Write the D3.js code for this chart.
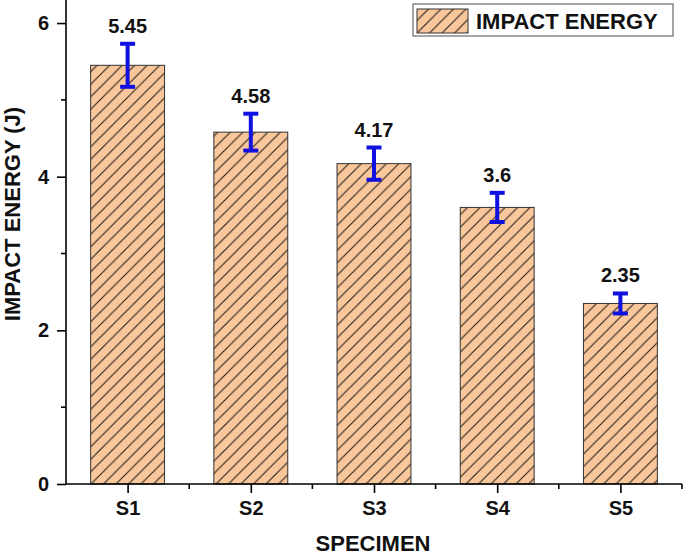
<!DOCTYPE html>
<html><head><meta charset="utf-8">
<script src="https://cdn.jsdelivr.net/npm/d3@7"></script>
<style>body{margin:0;background:#fff}svg{display:block}text{font-family:"Liberation Sans",Arial,sans-serif;font-weight:bold}</style>
</head><body><svg id="c" width="685" height="557"></svg>
<script>
const categories = ["S1","S2","S3","S4","S5"];
const values = [5.45, 4.58, 4.17, 3.6, 2.35];
const errors = [0.28, 0.24, 0.21, 0.19, 0.13];
const yTicks = [0, 2, 4, 6];
const yMinorTicks = [1, 3, 5];
const legendLabel = "IMPACT ENERGY";

const svg = d3.select("#c");
const x = d3.scaleLinear().domain([0.5, 5.5]).range([66, 682]);
const y = d3.scaleLinear().domain([0, 6.3]).range([484, 0]);
const barW = (x(1.6) - x(1));

const defs = svg.append("defs");
const pat = defs.append("pattern").attr("id","hatch").attr("patternUnits","userSpaceOnUse")
  .attr("width",12.5).attr("height",12.5);
pat.append("rect").attr("width",12.5).attr("height",12.5).attr("fill","#f8c79b");
pat.append("path").attr("d","M-1,13.5 L13.5,-1 M-4,4 L4,-4 M8.5,16.5 L16.5,8.5")
  .attr("stroke","#2a1f18").attr("stroke-width",1.1);

// bars
svg.selectAll("rect.bar").data(values).enter().append("rect").attr("class","bar")
  .attr("x",(d,i)=>x(i+1)-barW/2).attr("width",barW)
  .attr("y",d=>y(d)).attr("height",d=>y(0)-y(d))
  .attr("fill","url(#hatch)").attr("stroke","#333").attr("stroke-width",1);

// error bars
const eb = svg.selectAll("g.err").data(values).enter().append("g").attr("class","err");
eb.append("line").attr("x1",(d,i)=>x(i+1)).attr("x2",(d,i)=>x(i+1))
  .attr("y1",(d,i)=>y(d+errors[i])).attr("y2",(d,i)=>y(d-errors[i]))
  .attr("stroke","#1010e0").attr("stroke-width",4);
[1,-1].forEach(s=>{
  eb.append("line").attr("x1",(d,i)=>x(i+1)-7.5).attr("x2",(d,i)=>x(i+1)+7.5)
    .attr("y1",(d,i)=>y(d+s*errors[i])).attr("y2",(d,i)=>y(d+s*errors[i]))
    .attr("stroke","#1010e0").attr("stroke-width",4);
});
// value labels
svg.selectAll("text.val").data(values).enter().append("text").attr("class","val")
  .attr("x",(d,i)=>x(i+1)).attr("y",(d,i)=>y(d+errors[i])-11)
  .attr("text-anchor","middle").attr("font-size",20).attr("fill","#111")
  .text(d=>String(d));

// y axis
const yAxis = svg.append("g").attr("transform","translate(66,0)")
  .call(d3.axisLeft(y).tickValues(yTicks).tickSize(9).tickPadding(8).tickFormat(d3.format("d")));
yAxis.select(".domain").attr("d","M0,0V484").attr("stroke","#000").attr("stroke-width",1.6);
yAxis.selectAll(".tick line").attr("stroke-width",1.6);
yAxis.selectAll("text").attr("font-size",20).attr("fill","#111");
svg.append("g").attr("transform","translate(66,0)").selectAll("line").data(yMinorTicks).enter().append("line")
  .attr("x1",-5).attr("x2",0).attr("y1",d=>y(d)).attr("y2",d=>y(d)).attr("stroke","#000").attr("stroke-width",1.6);

// x axis
const xAxis = svg.append("g").attr("transform","translate(0,484)")
  .call(d3.axisBottom(x).tickValues(d3.range(1,categories.length+1)).tickSize(9).tickPadding(8)
    .tickFormat(d=>categories[d-1]));
xAxis.select(".domain").attr("d","M66,0H682").attr("stroke","#000").attr("stroke-width",1.6);
xAxis.selectAll(".tick line").attr("stroke-width",1.6);
xAxis.selectAll("text").attr("font-size",20).attr("fill","#111");
svg.append("g").attr("transform","translate(0,484)").selectAll("line")
  .data(d3.range(1.5, categories.length+0.6, 1)).enter().append("line")
  .attr("x1",d=>x(d)).attr("x2",d=>x(d)).attr("y1",0).attr("y2",5).attr("stroke","#000").attr("stroke-width",1.6);

// titles
svg.append("text").attr("x",373).attr("y",551).attr("text-anchor","middle").attr("font-size",22).attr("fill","#111").text("SPECIMEN");
svg.append("text").attr("transform","translate(20,214) rotate(-90)").attr("text-anchor","middle").attr("font-size",22).attr("fill","#111").text("IMPACT ENERGY (J)");

// legend
const lg = svg.append("g");
lg.append("rect").attr("x",413).attr("y",4).attr("width",260).attr("height",32).attr("fill","#fff").attr("stroke","#888").attr("stroke-width",1.5);
lg.append("rect").attr("x",417).attr("y",9).attr("width",51).attr("height",24).attr("fill","url(#hatch)").attr("stroke","#333").attr("stroke-width",1);
lg.append("text").attr("x",476).attr("y",28.5).attr("font-size",22).attr("fill","#111").text(legendLabel);
</script></body></html>
